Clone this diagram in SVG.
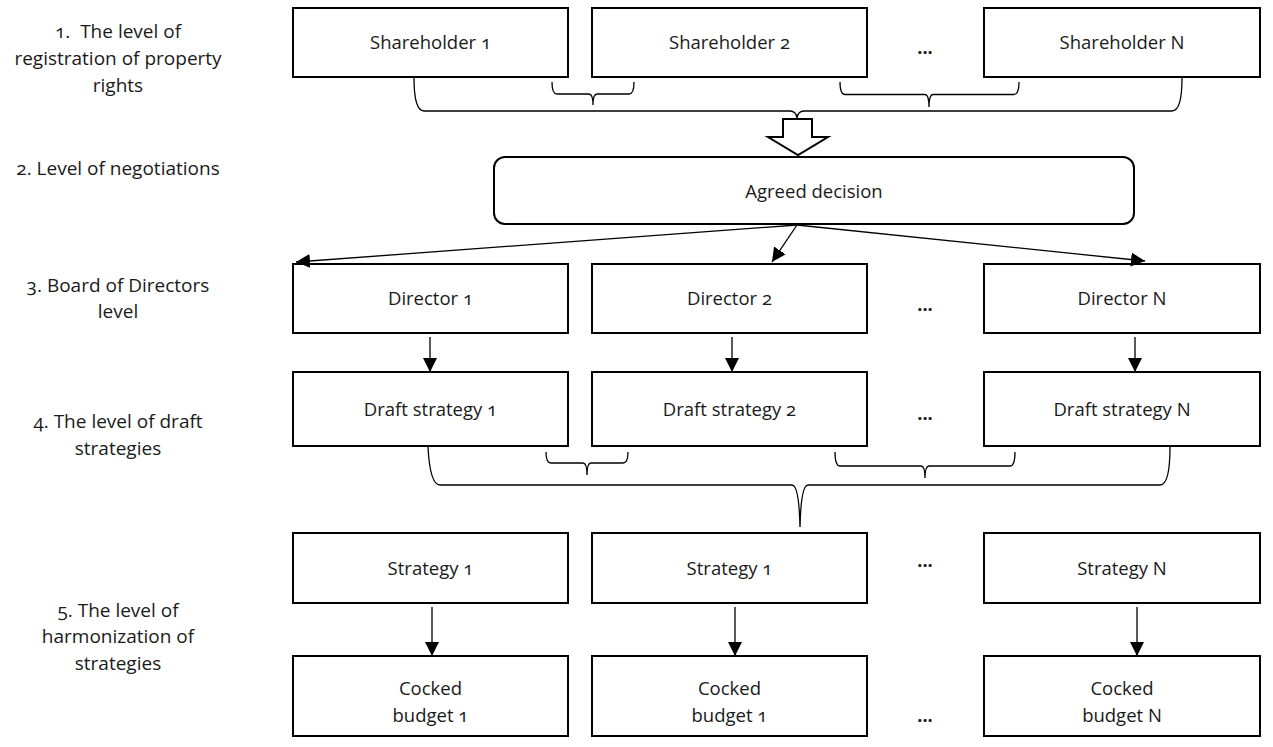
<svg xmlns="http://www.w3.org/2000/svg" width="1273" height="747" viewBox="0 0 1273 747">
  <style>
    text { font-family: "Open Sans", "Noto Sans", "DejaVu Sans", sans-serif; font-size: 18.5px; fill: #1a1a1a; font-variant-numeric: oldstyle-nums; }
    .lvl text { font-size: 19px; }
    .box { fill: #ffffff; stroke: #000000; stroke-width: 2; }
    .lbl { text-anchor: middle; }
    .dots { text-anchor: middle; font-weight: bold; font-size: 18px; }
    .brace { fill: none; stroke: #000000; stroke-width: 1.3; }
    .arrow { fill: none; stroke: #000000; stroke-width: 1.3; marker-end: url(#head); }
  </style>
  <defs>
    <marker id="head" markerUnits="userSpaceOnUse" viewBox="0 0 14 14" refX="14" refY="7" markerWidth="14" markerHeight="14" orient="auto">
      <path d="M0,0 L14,7 L0,14 z" fill="#000000"/>
    </marker>
  </defs>

  <!-- level captions -->
  <g id="levels" class="lvl lbl">
    <text x="118" y="38">1.&#160; The level of</text>
    <text x="118" y="65">registration of property</text>
    <text x="118" y="92">rights</text>
    <text x="118" y="175">2. Level of negotiations</text>
    <text x="118" y="292">3. Board of Directors</text>
    <text x="118" y="318">level</text>
    <text x="118" y="428">4. The level of draft</text>
    <text x="118" y="455">strategies</text>
    <text x="118" y="617">5. The level of</text>
    <text x="118" y="643">harmonization of</text>
    <text x="118" y="670">strategies</text>
  </g>

  <!-- level 1 -->
  <g id="shareholder-1"><rect class="box" x="293" y="8" width="275" height="69"/><text class="lbl" x="430.5" y="49">Shareholder 1</text></g>
  <g id="shareholder-2"><rect class="box" x="592" y="8" width="275" height="69"/><text class="lbl" x="729.5" y="49">Shareholder 2</text></g>
  <g id="shareholder-n"><rect class="box" x="984" y="8" width="276" height="69"/><text class="lbl" x="1122" y="49">Shareholder N</text></g>

  <!-- level 2 -->
  <g id="agreed-decision"><rect class="box" x="494" y="157" width="640" height="67" rx="11" ry="11"/><text class="lbl" x="814" y="198">Agreed decision</text></g>

  <!-- level 3 -->
  <g id="director-1"><rect class="box" x="293" y="264" width="275" height="69"/><text class="lbl" x="430.5" y="305">Director 1</text></g>
  <g id="director-2"><rect class="box" x="592" y="264" width="275" height="69"/><text class="lbl" x="729.5" y="305">Director 2</text></g>
  <g id="director-n"><rect class="box" x="984" y="264" width="276" height="69"/><text class="lbl" x="1122" y="305">Director N</text></g>

  <!-- level 4 -->
  <g id="draft-1"><rect class="box" x="293" y="372" width="275" height="74"/><text class="lbl" x="430.5" y="416">Draft strategy 1</text></g>
  <g id="draft-2"><rect class="box" x="592" y="372" width="275" height="74"/><text class="lbl" x="729.5" y="416">Draft strategy 2</text></g>
  <g id="draft-n"><rect class="box" x="984" y="372" width="276" height="74"/><text class="lbl" x="1122" y="416">Draft strategy N</text></g>

  <!-- level 5 -->
  <g id="strategy-1"><rect class="box" x="293" y="533" width="275" height="70"/><text class="lbl" x="430.5" y="575">Strategy 1</text></g>
  <g id="strategy-2"><rect class="box" x="592" y="533" width="275" height="70"/><text class="lbl" x="729.5" y="575">Strategy 1</text></g>
  <g id="strategy-n"><rect class="box" x="984" y="533" width="276" height="70"/><text class="lbl" x="1122" y="575">Strategy N</text></g>

  <g id="budget-1"><rect class="box" x="293" y="656" width="275" height="80"/><text class="lbl" x="430.5" y="695">Cocked</text><text class="lbl" x="430.5" y="722">budget 1</text></g>
  <g id="budget-2"><rect class="box" x="592" y="656" width="275" height="80"/><text class="lbl" x="729.5" y="695">Cocked</text><text class="lbl" x="729.5" y="722">budget 1</text></g>
  <g id="budget-n"><rect class="box" x="984" y="656" width="276" height="80"/><text class="lbl" x="1122" y="695">Cocked</text><text class="lbl" x="1122" y="722">budget N</text></g>

  <!-- ellipses between the second and last column -->
  <g id="ellipses">
    <text class="dots" x="925" y="54">...</text>
    <text class="dots" x="925" y="311">...</text>
    <text class="dots" x="925" y="420">...</text>
    <text class="dots" x="925" y="567">...</text>
    <text class="dots" x="925" y="722">...</text>
  </g>

  <!-- connectors -->
  <g id="connectors">
    <!-- braces under the shareholders -->
    <path class="brace" d="M552,82 Q552,94 557,94 L589,94 Q593,94 593,105 Q593,94 597,94 L629,94 Q634,94 634,82"/>
    <path class="brace" d="M840,82 Q840,94.5 845,94.5 L925,94.5 Q929,94.5 929,107 Q929,94.5 933,94.5 L1014,94.5 Q1019,94.5 1019,82"/>
    <path class="brace" d="M414,78 Q414,111 424,111 L790,111 Q796,111 797,118 Q798,111 804,111 L1172,111 Q1182,111 1182,78"/>
    <!-- hollow block arrow into the agreed decision -->
    <polygon points="783,119 812,119 812,137 828,137 798,155 768,137 783,137" fill="#ffffff" stroke="#000000" stroke-width="2" stroke-linejoin="miter"/>
    <!-- agreed decision to directors -->
    <line class="arrow" x1="797" y1="225" x2="296" y2="262"/>
    <line class="arrow" x1="797" y1="225" x2="772" y2="262"/>
    <line class="arrow" x1="797" y1="225" x2="1145" y2="261"/>
    <!-- directors to draft strategies -->
    <line class="arrow" x1="430" y1="337" x2="430" y2="372"/>
    <line class="arrow" x1="732" y1="337" x2="732" y2="372"/>
    <line class="arrow" x1="1135" y1="337" x2="1135" y2="372"/>
    <!-- braces under the draft strategies -->
    <path class="brace" d="M546,452 Q546,463 551,463 L583,463 Q587,463 587,475 Q587,463 591,463 L623,463 Q628,463 628,452"/>
    <path class="brace" d="M835,452 Q835,466 840,466 L921,466 Q925,466 925,478 Q925,466 929,466 L1010,466 Q1015,466 1015,452"/>
    <path class="brace" d="M428,447 Q430,485 440,485 L792,485 Q799,485 800,527 Q801,485 808,485 L1160,485 Q1170,485 1170,447"/>
    <!-- strategies to budgets -->
    <line class="arrow" x1="432" y1="607" x2="432" y2="656"/>
    <line class="arrow" x1="735" y1="607" x2="735" y2="656"/>
    <line class="arrow" x1="1137" y1="607" x2="1137" y2="656"/>
  </g>
</svg>
